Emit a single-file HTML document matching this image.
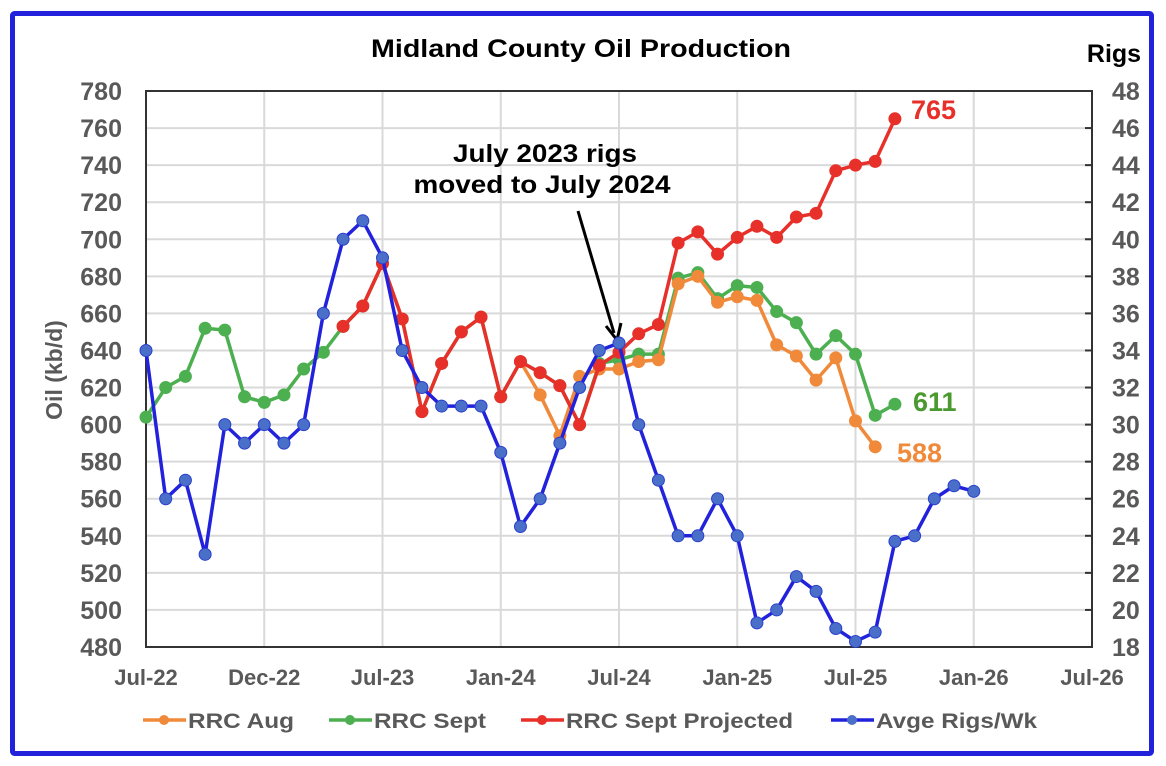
<!DOCTYPE html>
<html><head><meta charset="utf-8"><style>
html,body{margin:0;padding:0;background:#fff;}
svg{display:block;font-family:"Liberation Sans",Arial,sans-serif;}
</style></head><body>
<svg id="s" width="1166" height="766" xmlns="http://www.w3.org/2000/svg">
<rect x="0" y="0" width="1166" height="766" fill="#fff"/>
<rect x="12.5" y="13.5" width="1139" height="740" fill="none" stroke="#2222dd" stroke-width="5" rx="2"/>
<g id="grid"></g>
<text x="581" y="57" font-size="25" font-weight="bold" text-anchor="middle" fill="#000" textLength="420" lengthAdjust="spacingAndGlyphs">Midland County Oil Production</text>
<text x="1114" y="62" font-size="25" font-weight="bold" text-anchor="middle" fill="#000">Rigs</text>
<text transform="translate(62,370) rotate(-90)" font-size="23" font-weight="bold" text-anchor="middle" fill="#595959">Oil (kb/d)</text>
<text x="545" y="162" font-size="25" font-weight="bold" text-anchor="middle" fill="#000" textLength="184" lengthAdjust="spacingAndGlyphs">July 2023 rigs</text>
<text x="542" y="193" font-size="25" font-weight="bold" text-anchor="middle" fill="#000" textLength="257" lengthAdjust="spacingAndGlyphs">moved to July 2024</text>
<line x1="578" y1="211" x2="614" y2="333" stroke="#000" stroke-width="3"/>
<polyline points="606,326 617,340 621,323" fill="none" stroke="#000" stroke-width="3"/>
<g id="series"></g>
<text x="911" y="119" font-size="27" font-weight="bold" fill="#e8302a">765</text>
<text x="913" y="411" font-size="27" font-weight="bold" fill="#4a9a2f">611</text>
<text x="897" y="462" font-size="27" font-weight="bold" fill="#f08a3a">588</text>
<g id="legend" font-size="21" font-weight="bold" fill="#595959"></g>
</svg>
<script>
const NS="http://www.w3.org/2000/svg";
function el(p,t,a,txt){const e=document.createElementNS(NS,t);for(const k in a)e.setAttribute(k,a[k]);if(txt!==undefined)e.textContent=txt;p.appendChild(e);return e;}
const L=146,R=1092,T=91,B=647;
const g=document.getElementById('grid');
const X=m=>L+m*(R-L)/48;
const Y=v=>B-(v-480)*(B-T)/300;
const YR=r=>B-(r-18)*(B-T)/30;
for(let i=1;i<15;i++){const y=Y(480+i*20);el(g,'line',{x1:L,x2:R,y1:y,y2:y,stroke:'#d9d9d9','stroke-width':2});}
for(let k=1;k<8;k++){const x=X(k*6);el(g,'line',{x1:x,x2:x,y1:T,y2:B,stroke:'#d9d9d9','stroke-width':2});}
el(g,'rect',{x:L,y:T,width:R-L,height:B-T,fill:'none',stroke:'#333','stroke-width':2});
for(let i=0;i<16;i++){const y=Y(480+i*20);
 el(g,'text',{x:122,y:y+9,'font-size':25,'font-weight':'bold','text-anchor':'end',fill:'#595959'},String(480+i*20));
 el(g,'line',{x1:R-7,x2:R,y1:y,y2:y,stroke:'#333','stroke-width':2});
 el(g,'text',{x:1112,y:y+9,'font-size':25,'font-weight':'bold',fill:'#595959'},String(18+i*2));}
const xl=['Jul-22','Dec-22','Jul-23','Jan-24','Jul-24','Jan-25','Jul-25','Jan-26','Jul-26'];
xl.forEach((t,k)=>el(g,'text',{x:X(k*6),y:685,'font-size':22,'font-weight':'bold','text-anchor':'middle',fill:'#595959'},t));
const s=document.getElementById('series');
function draw(pts,col,mk,r,stroke){
 el(s,'polyline',{points:pts.map(p=>p.join(',')).join(' '),fill:'none',stroke:col,'stroke-width':3.5,'stroke-linejoin':'round'});
 pts.forEach(p=>el(s,'circle',{cx:p[0],cy:p[1],r:r,fill:mk,stroke:stroke||mk,'stroke-width':1}));
}
const green=[604,620,626,652,651,615,612,616,630,639,653,664,687,657,607,633,650,658,615,634,628,621,600,633,635,638,638,679,682,668,675,674,661,655,638,648,638,605,611];
const orange={19:634,20:616,21:594,22:626,23:630,24:630,25:634,26:635,27:676,28:680,29:666,30:669,31:667,32:643,33:637,34:624,35:636,36:602,37:588};
const red=[653,664,687,657,607,633,650,658,615,634,628,621,600,632,639,649,654,698,704,692,701,707,701,712,714,737,740,742,765];
const rigs=[34,26,27,23,30,29,30,29,30,36,40,41,39,34,32,31,31,31,28.5,24.5,26,29,32,34,34.4,30,27,24,24,26,24,19.3,20,21.8,21,19,18.3,18.8,23.7,24,26,26.7,26.4];
draw(green.map((v,m)=>[X(m),Y(v)]),'#4caf50','#4caf50',6);
draw(Object.keys(orange).map(m=>[X(+m),Y(orange[m])]),'#f08a3a','#f08a3a',6);
draw(red.map((v,i)=>[X(i+10),Y(v)]),'#e8302a','#e8302a',6);
draw(rigs.map((v,m)=>[X(m),YR(v)]),'#2222dd','#4a6fc8',6,'#2a3fd0');
const lg=document.getElementById('legend');
[['RRC Aug','#f08a3a','#f08a3a',143,106],['RRC Sept','#4caf50','#4caf50',329,112],['RRC Sept Projected','#e8302a','#e8302a',521,227],['Avge Rigs/Wk','#2222dd','#4a6fc8',831,161]].forEach(([t,c,m,x,w])=>{
 el(lg,'line',{x1:x,x2:x+43,y1:720,y2:720,stroke:c,'stroke-width':3.5});
 el(lg,'circle',{cx:x+21,cy:720,r:5,fill:m});
 el(lg,'text',{x:x+45,y:728,textLength:w,lengthAdjust:'spacingAndGlyphs'},t);
});
</script>
</body></html>
